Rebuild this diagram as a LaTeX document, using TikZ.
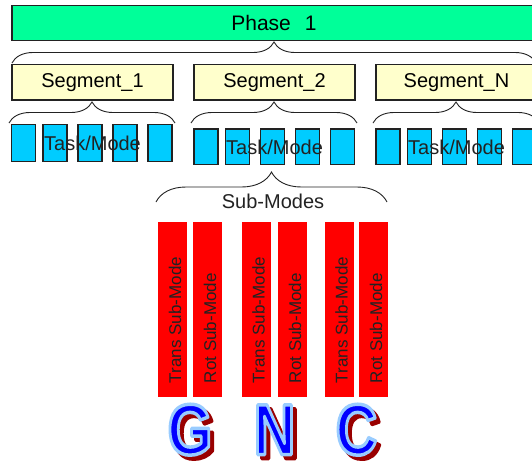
\documentclass[tikz,border=0pt]{standalone}
\usepackage{fontspec}
\setmainfont{Liberation Sans}
\usetikzlibrary{decorations.pathreplacing,calc}
\definecolor{phasegreen}{HTML}{00FF99}
\definecolor{segyellow}{HTML}{FFFFCC}
\definecolor{taskcyan}{HTML}{00CCFF}
\definecolor{barred}{HTML}{FF0000}
\definecolor{gncblue}{HTML}{0000FF}
\definecolor{gncedge}{HTML}{99CCFF}
\definecolor{gncshadow}{HTML}{990000}
\definecolor{linegray}{HTML}{222222}
\newcommand\gncglyph[1]{\scalebox{0.8}[1]{#1}}
\newcommand\gncoutlined[1]{\special{pdf:literal direct 0.6 0.8 1 RG 3.5 w 1 j 2 Tr}\gncglyph{#1}\special{pdf:literal direct 0 Tr 0.4 w}}
\newcommand\gncheavy[1]{\special{pdf:literal direct 0.6 0 0 RG 3.5 w 1 j 2 Tr}\gncglyph{#1}\special{pdf:literal direct 0 Tr 0.4 w}}
\begin{document}
\begin{tikzpicture}[x=1pt,y=-1pt,
 every node/.style={inner sep=0pt, outer sep=0pt},
 phasebox/.style={draw=linegray, line width=1.2pt, fill=phasegreen, minimum width=524pt, minimum height=35pt, font=\fontsize{21}{24}\selectfont},
 segbox/.style={draw=linegray, line width=1.2pt, fill=segyellow, minimum width=161pt, minimum height=35.5pt, font=\fontsize{20}{24}\selectfont},
 taskbox/.style={draw=linegray, line width=1.2pt, fill=taskcyan, minimum width=24pt, minimum height=35.5pt},
 tasklabel/.style={font=\fontsize{20}{24}\selectfont, text=linegray},
 subbar/.style={fill=barred, minimum width=29pt, minimum height=175pt},
 bartext/.style={rotate=90, anchor=west, font=\fontsize{17}{20}\selectfont, text=linegray},
 bracelink/.style={draw=linegray, line width=0.9pt, decorate, decoration={brace, amplitude=#1}},
 gnc/.style={anchor=base, font=\fontsize{72}{72}\selectfont\bfseries},
]
\useasboundingbox (0,0) rectangle (532,464);
\clip (0,0) rectangle (532,464);

% Phase
\node[phasebox] (phase) at (274,23) {Phase\hspace{0.67em}1};

% Segments
\node[segbox] (seg1) at (92.5,82.25) {Segment\_1};
\node[segbox] (seg2) at (274.5,82.25) {Segment\_2};
\node[segbox] (segN) at (456.5,82.25) {Segment\_N};

% Phase brace
\coordinate (pbL) at (12,63);
\coordinate (pbR) at (536,63);
\draw[bracelink=21pt] (pbL) -- (pbR);

% Segment braces
\coordinate (s1L) at (9,123);   \coordinate (s1R) at (175,123);
\coordinate (s2L) at (191,123); \coordinate (s2R) at (357,123);
\coordinate (s3L) at (373,123); \coordinate (s3R) at (539,123);
\draw[bracelink=21pt] (s1L) -- (s1R);
\draw[bracelink=21pt] (s2L) -- (s2R);
\draw[bracelink=21pt] (s3L) -- (s3R);

% Task boxes
\foreach \i/\ox in {1/23.7,2/55,3/90,4/125,5/160}
  \node[taskbox, minimum height=36.5pt] (ta\i) at (\ox,143) {};
\foreach \i/\ox in {1/206,2/237.5,3/272.5,4/307.5,5/342.5}
  \node[taskbox] (tb\i) at (\ox,146.75) {};
\foreach \i/\ox in {1/388,2/419.5,3/454.5,4/489.5,5/524.5}
  \node[taskbox] (tc\i) at (\ox,146.75) {};
\node[tasklabel] (lab1) at (92.5,143) {Task/Mode};
\node[tasklabel] (lab2) at (274.5,147) {Task/Mode};
\node[tasklabel] (lab3) at (456.5,147) {Task/Mode};

% Sub-Modes brace
\coordinate (smL) at (156,202);
\coordinate (smR) at (387,202);
\draw[bracelink=30pt] (smL) -- (smR);
\node[tasklabel] (sublab) at (273,201) {Sub-Modes};

% Red bars
\foreach \i/\bx/\txt in {1/172.5/Trans Sub-Mode,2/207.5/Rot Sub-Mode,3/256/Trans Sub-Mode,4/292.5/Rot Sub-Mode,5/339/Trans Sub-Mode,6/373.5/Rot Sub-Mode}{
  \node[subbar] (bar\i) at (\bx,309.5) {};
  \node[bartext] (bt\i) at ($(bar\i.south)+(2.5,-14)$) {\txt};
}

% GNC letters
\foreach \nm/\lx/\ch in {G/190/G,N/274.5/N,C/356.5/C}{
  \node[gnc, text=gncshadow] (shadow\nm) at (\lx+4,458.5) {\gncheavy{\ch}};
  \node[gnc, text=gncblue] (letter\nm) at (\lx,454.5) {\gncoutlined{\ch}};
}
\end{tikzpicture}
\end{document}
